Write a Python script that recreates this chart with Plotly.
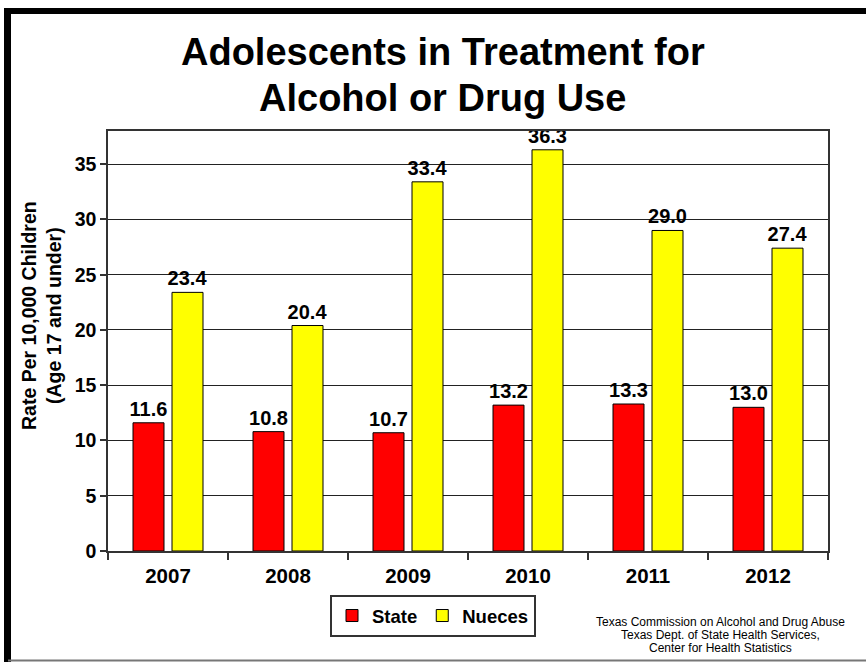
import plotly.graph_objects as go

years = ["2007", "2008", "2009", "2010", "2011", "2012"]
state = [11.6, 10.8, 10.7, 13.2, 13.3, 13.0]
nueces = [23.4, 20.4, 33.4, 36.3, 29.0, 27.4]
y_ticks = [0, 5, 10, 15, 20, 25, 30, 35]

W, H = 866, 662
L, R, T, B = 108, 828, 131, 551  # plot area in pixels


def px(x):
    return (x - L) / (R - L)


def py(y):
    return (B - y) / (B - T)


FONT = "Arial, Liberation Sans, sans-serif"

fig = go.Figure()
fig.add_trace(go.Bar(
    name="State", x=years, y=state,
    marker=dict(color="#FF0000", line=dict(color="#000000", width=1)),
    text=[f"{v:.1f}" for v in state], textposition="outside",
    textfont=dict(family=FONT, size=20, color="#000000", weight="bold"),
    cliponaxis=False, constraintext="none",
))
fig.add_trace(go.Bar(
    name="Nueces", x=years, y=nueces,
    marker=dict(color="#FFFF00", line=dict(color="#000000", width=1)),
    text=[f"{v:.1f}" for v in nueces], textposition="outside",
    textfont=dict(family=FONT, size=20, color="#000000", weight="bold"),
    cliponaxis=False, constraintext="none",
))

fig.update_layout(
    width=W, height=H,
    margin=dict(l=L, r=W - R, t=T, b=H - B, pad=0, autoexpand=False),
    paper_bgcolor="white", plot_bgcolor="white",
    barmode="group", bargap=0.35, bargroupgap=0.205,
    font=dict(family=FONT, color="#000000"),
    showlegend=True,
    legend=dict(
        orientation="h", x=px(433), y=py(595), xanchor="center", yanchor="top",
        bordercolor="#333333", borderwidth=2, bgcolor="white",
        font=dict(family=FONT, size=18.5, color="#000000", weight="bold"),
        itemwidth=30, tracegroupgap=0,
    ),
)
fig.update_xaxes(
    type="category", tickson="boundaries", ticks="outside", ticklen=7,
    tickcolor="#333333", tickwidth=1.5,
    showline=True, mirror=True, linecolor="#333333", linewidth=1.5,
    showgrid=False, automargin=False,
    tickfont=dict(family=FONT, size=20.5, color="#000000", weight="bold"),
    ticklabelstandoff=6,
)
fig.update_yaxes(
    range=[0, 38], tickvals=y_ticks, ticks="outside", ticklen=6,
    tickcolor="#333333", tickwidth=1.5,
    showline=True, mirror=True, linecolor="#333333", linewidth=1.5,
    showgrid=True, gridcolor="#222222", gridwidth=1.3,
    zeroline=False, automargin=False,
    tickfont=dict(family=FONT, size=19.5, color="#000000", weight="bold"),
)

anns = [
    dict(text="<b>Adolescents in Treatment for</b>", x=px(443), y=py(52), font=dict(size=38)),
    dict(text="<b>Alcohol or Drug Use</b>", x=px(442), y=py(98), font=dict(size=38)),
    dict(text="<b>Rate Per 10,000 Children<br>(Age 17 and under)</b>", x=px(41), y=py(316),
         textangle=-90, font=dict(size=19.5)),
    dict(text="Texas Commission on Alcohol and Drug Abuse", x=px(720), y=py(622), font=dict(size=12)),
    dict(text="Texas Dept. of State Health Services,", x=px(720), y=py(635), font=dict(size=12)),
    dict(text="Center for Health Statistics", x=px(720), y=py(648), font=dict(size=12)),
]
for a in anns:
    a.update(xref="paper", yref="paper", xanchor="center", yanchor="middle",
             showarrow=False)
    a["font"].update(family=FONT, color="#000000")
    fig.add_annotation(**a)

# Frame around chart
fig.add_shape(type="line", xref="paper", yref="paper",
              x0=px(7.5), x1=px(7.5), y0=py(8), y1=py(662),
              line=dict(color="#000000", width=7))
fig.add_shape(type="line", xref="paper", yref="paper",
              x0=px(4), x1=px(870), y0=py(11), y1=py(11),
              line=dict(color="#000000", width=6))
fig.add_shape(type="line", xref="paper", yref="paper",
              x0=px(8), x1=px(870), y0=py(660.5), y1=py(660.5),
              line=dict(color="#777777", width=2))

fig.write_html(
    "out.html",
    config={"displayModeBar": False},
    post_script="document.body.style.margin='0';document.body.style.padding='0';",
)
